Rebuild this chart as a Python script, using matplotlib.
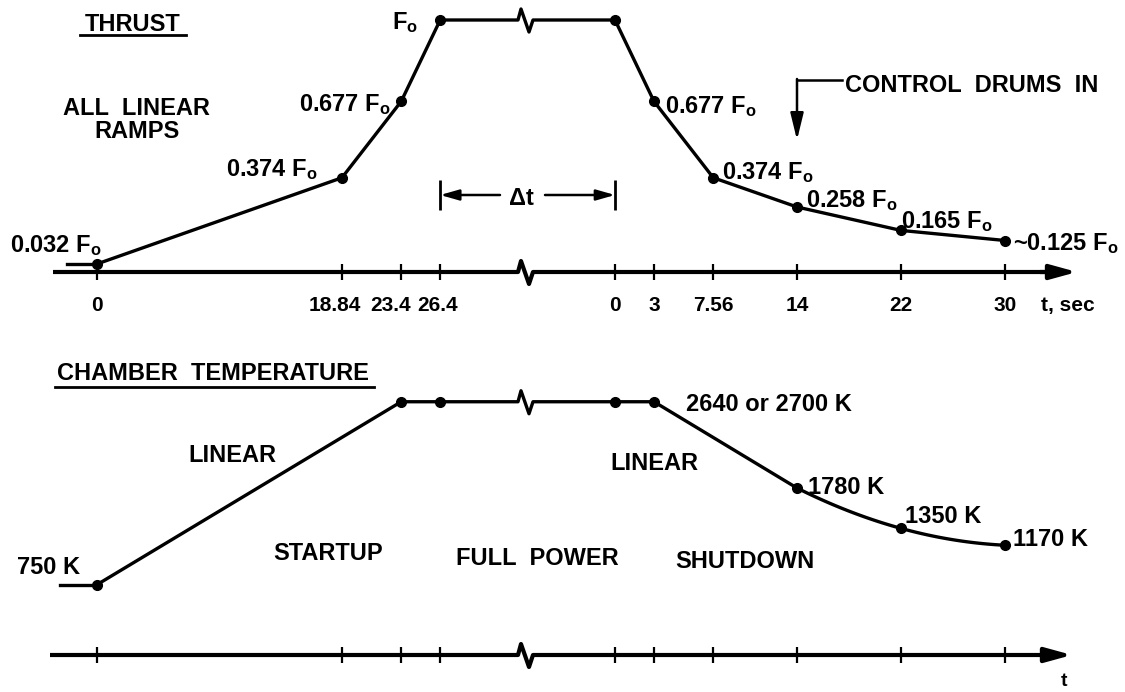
import numpy as np
import matplotlib
matplotlib.use("Agg")
import matplotlib.pyplot as plt

plt.rcParams["font.family"] = ["Liberation Sans", "DejaVu Sans"]
plt.rcParams["font.weight"] = "bold"
plt.rcParams["mathtext.fontset"] = "custom"
plt.rcParams["mathtext.rm"] = "Liberation Sans:bold"
plt.rcParams["mathtext.it"] = "Liberation Sans:bold"
plt.rcParams["mathtext.bf"] = "Liberation Sans:bold"

# ---------------- data ----------------
startup_t = [0, 18.84, 23.4, 26.4]
startup_thrust = [0.032, 0.374, 0.677, 1.0]
shutdown_t = [0, 3, 7.56, 14, 22, 30]
shutdown_thrust = [1.0, 0.677, 0.374, 0.258, 0.165, 0.125]
startup_tick_labels = ["0", "18.84", "23.4", "26.4"]
shutdown_tick_labels = ["0", "3", "7.56", "14", "22", "30"]
thrust_startup_text = [r"0.032 F$_{\rm o}$", r"0.374 F$_{\rm o}$", r"0.677 F$_{\rm o}$", r"F$_{\rm o}$"]
thrust_shutdown_text = [None, r"0.677 F$_{\rm o}$", r"0.374 F$_{\rm o}$", r"0.258 F$_{\rm o}$",
                        r"0.165 F$_{\rm o}$", r"~0.125 F$_{\rm o}$"]
temp_startup_t = [0, 23.4, 26.4]
temp_startup_K = [750, 2700, 2700]
temp_shutdown_t = [0, 3, 14, 22, 30]
temp_shutdown_K = [2700, 2700, 1780, 1350, 1170]
temp_startup_text = ["750 K", None, None]
temp_shutdown_text = [None, "2640 or 2700 K", "1780 K", "1350 K", "1170 K"]

# ---------------- layout ----------------
W, H = 1125, 692
X0_PX, PX_PER_S = 97, 13.0
SHUT = (615 - X0_PX) / PX_PER_S          # position of shutdown t=0 on the time axis
TOP_AXIS_PX, PX_PER_F = 272, 252.0
BOT_AXIS_PX, PX_PER_K = 655, 0.0938
SPLIT_PX = 340
BREAK_PX = 518
ZIG_DX = np.array([0, 3, 11, 15])
ZIG_DY = np.array([0, -11, 12, 0])
FS = 17
TFS = 15
LW = 2.4
MS = 7

fig = plt.figure(figsize=(W / 100, H / 100), dpi=100)
ax1 = fig.add_axes([0, 1 - SPLIT_PX / H, 1, SPLIT_PX / H])
ax2 = fig.add_axes([0, 0, 1, 1 - SPLIT_PX / H])
for ax in (ax1, ax2):
    ax.set_axis_off()
    ax.set_xlim(-X0_PX / PX_PER_S, (W - X0_PX) / PX_PER_S)
ax1.set_ylim(-(SPLIT_PX - TOP_AXIS_PX) / PX_PER_F, TOP_AXIS_PX / PX_PER_F)
ax2.set_ylim(-(H - BOT_AXIS_PX) / PX_PER_K, (BOT_AXIS_PX - SPLIT_PX) / PX_PER_K)


def tx(xpx):
    return (xpx - X0_PX) / PX_PER_S


def y1(ypx):
    return (TOP_AXIS_PX - ypx) / PX_PER_F


def y2(ypx):
    return (BOT_AXIS_PX - ypx) / PX_PER_K


zig_t = list(tx(BREAK_PX + ZIG_DX))

shut_x = [SHUT + t for t in shutdown_t]
tshut_x = [SHUT + t for t in temp_shutdown_t]
ticks = list(startup_t) + shut_x

# ---------------- THRUST panel ----------------
ax1.plot([tx(53)] + [zig_t[0]] + zig_t[1:] + [tx(1050)],
         [0, 0] + list(-ZIG_DY[1:] / PX_PER_F) + [0], color="k", lw=3, solid_capstyle="butt")
ax1.annotate("", xy=(tx(1077), 0), xytext=(tx(1040), 0),
             arrowprops=dict(arrowstyle="-|>,head_length=0.8,head_width=0.22", lw=3, color="k",
                             mutation_scale=20, shrinkA=0, shrinkB=0))
ax1.vlines(ticks, y1(TOP_AXIS_PX + 8), y1(TOP_AXIS_PX - 8), color="k", lw=1.6)
nudges = [0, -7, -11, -3]
for t, lab, n in zip(startup_t, startup_tick_labels, nudges):
    ax1.text(t + n / PX_PER_S, y1(311), lab, ha="center", va="baseline", fontsize=TFS)
for t, lab in zip(shut_x, shutdown_tick_labels):
    ax1.text(t, y1(311), lab, ha="center", va="baseline", fontsize=TFS)
ax1.text(tx(1041), y1(311), "t, sec", ha="left", va="baseline", fontsize=TFS)

# thrust curve
lead_t = tx(67)
ax1.plot([lead_t, startup_t[0]], [startup_thrust[0]] * 2, color="k", lw=LW)
line_x = list(startup_t) + zig_t + shut_x
line_y = list(startup_thrust) + list(1.0 - ZIG_DY / PX_PER_F) + list(shutdown_thrust)
ax1.plot(line_x, line_y, color="k", lw=LW, solid_joinstyle="round")
ax1.plot(list(startup_t) + shut_x, list(startup_thrust) + list(shutdown_thrust), "o",
         color="k", ms=MS)

startup_off = [(5, -20, "right"), (-24, -10, "right"), (-10, 1, "right"), (-22, 1, "right")]
shutdown_off = [None, (11, 3, "left"), (9, -7, "left"), (9, -8, "left"), (0, -11, "left"), (8, 1, "left")]
for t, v, s, o in zip(startup_t, startup_thrust, thrust_startup_text, startup_off):
    ax1.annotate(s, xy=(t, v), xytext=(o[0], -(o[1] + 8.5)), textcoords="offset pixels",
                 ha=o[2], va="baseline", fontsize=FS)
for t, v, s, o in zip(shut_x, shutdown_thrust, thrust_shutdown_text, shutdown_off):
    if s is None:
        continue
    ax1.annotate(s, xy=(t, v), xytext=(o[0], -(o[1] + 8.5)), textcoords="offset pixels",
                 ha=o[2], va="baseline", fontsize=FS)

# headers / notes
ax1.text(tx(85), y1(31), "THRUST", ha="left", va="baseline", fontsize=FS)
ax1.plot([tx(80), tx(186)], [y1(35)] * 2, color="k", lw=2)
ax1.text(tx(136), y1(115), "ALL  LINEAR", ha="center", va="baseline", fontsize=FS)
ax1.text(tx(137), y1(138), "RAMPS", ha="center", va="baseline", fontsize=FS)

# delta t
ax1.vlines([startup_t[-1], SHUT], y1(210), y1(180), color="k", lw=2)
arr = dict(arrowstyle="-|>,head_length=0.7,head_width=0.2", lw=1.8, color="k",
           mutation_scale=16, shrinkA=0, shrinkB=0)
ax1.annotate("", xy=(startup_t[-1], y1(195)), xytext=(tx(500), y1(195)), arrowprops=arr)
ax1.annotate("", xy=(SHUT, y1(195)), xytext=(tx(545), y1(195)), arrowprops=arr)
ax1.text(tx(521), y1(205), "\u0394t", ha="center", va="baseline", fontsize=FS)

# control drums
drum_t = SHUT + shutdown_t[3]
ax1.plot([drum_t, tx(842)], [y1(80)] * 2, color="k", lw=1.8)
ax1.annotate("", xy=(drum_t, y1(140)), xytext=(drum_t, y1(79)),
             arrowprops=dict(arrowstyle="-|>,head_length=0.9,head_width=0.22", lw=1.8, color="k",
                             mutation_scale=18, shrinkA=0, shrinkB=0))
ax1.text(tx(845), y1(92), "CONTROL  DRUMS  IN", ha="left", va="baseline", fontsize=FS)

# ---------------- TEMPERATURE panel ----------------
ax2.plot([tx(50)] + [zig_t[0]] + zig_t[1:] + [tx(1045)],
         [0, 0] + list(-ZIG_DY[1:] / PX_PER_K) + [0], color="k", lw=3, solid_capstyle="butt")
ax2.annotate("", xy=(tx(1072), 0), xytext=(tx(1040), 0),
             arrowprops=dict(arrowstyle="-|>,head_length=0.8,head_width=0.22", lw=3, color="k",
                             mutation_scale=20, shrinkA=0, shrinkB=0))
ax2.vlines(ticks, y2(BOT_AXIS_PX + 8), y2(BOT_AXIS_PX - 8), color="k", lw=1.6)
ax2.text(tx(1064), y2(686), "t", ha="center", va="baseline", fontsize=14)

# temperature curve
ax2.plot([tx(60), temp_startup_t[0]], [temp_startup_K[0]] * 2, color="k", lw=LW)
plateau_K = temp_startup_K[-1]
lin_x = list(temp_startup_t) + zig_t + tshut_x[:3]
lin_y = list(temp_startup_K) + list(plateau_K - ZIG_DY / PX_PER_K) + list(temp_shutdown_K[:3])
ax2.plot(lin_x, lin_y, color="k", lw=LW, solid_joinstyle="round")
cx = np.array(tshut_x[2:])
cy = np.array(temp_shutdown_K[2:])
coef = np.polyfit(cx, cy, 2)
xx = np.linspace(cx[0], cx[-1], 60)
ax2.plot(xx, np.polyval(coef, xx), color="k", lw=LW)
ax2.plot(list(temp_startup_t) + tshut_x, list(temp_startup_K) + list(temp_shutdown_K), "o",
         color="k", ms=MS)

tstart_off = [(-17, -19, "right"), None, None]
tshut_off = [None, (32, 1, "left"), (11, -3, "left"), (4, -14, "left"), (8, -8, "left")]
for t, v, s, o in zip(temp_startup_t, temp_startup_K, temp_startup_text, tstart_off):
    if s is None:
        continue
    ax2.annotate(s, xy=(t, v), xytext=(o[0], -(o[1] + 8.5)), textcoords="offset pixels",
                 ha=o[2], va="baseline", fontsize=FS)
for t, v, s, o in zip(tshut_x, temp_shutdown_K, temp_shutdown_text, tshut_off):
    if s is None:
        continue
    ax2.annotate(s, xy=(t, v), xytext=(o[0], -(o[1] + 8.5)), textcoords="offset pixels",
                 ha=o[2], va="baseline", fontsize=FS)

ax2.text(tx(57), y2(380), "CHAMBER  TEMPERATURE", ha="left", va="baseline", fontsize=FS)
ax2.plot([tx(55), tx(374)], [y2(387)] * 2, color="k", lw=2)
ax2.text(tx(232), y2(462), "LINEAR", ha="center", va="baseline", fontsize=FS)
ax2.text(tx(654), y2(470), "LINEAR", ha="center", va="baseline", fontsize=FS)
ax2.text(tx(328), y2(560), "STARTUP", ha="center", va="baseline", fontsize=FS)
ax2.text(tx(537), y2(565), "FULL  POWER", ha="center", va="baseline", fontsize=FS)
ax2.text(tx(745), y2(568), "SHUTDOWN", ha="center", va="baseline", fontsize=FS)

fig.savefig("out.png", dpi=100, facecolor="white")
